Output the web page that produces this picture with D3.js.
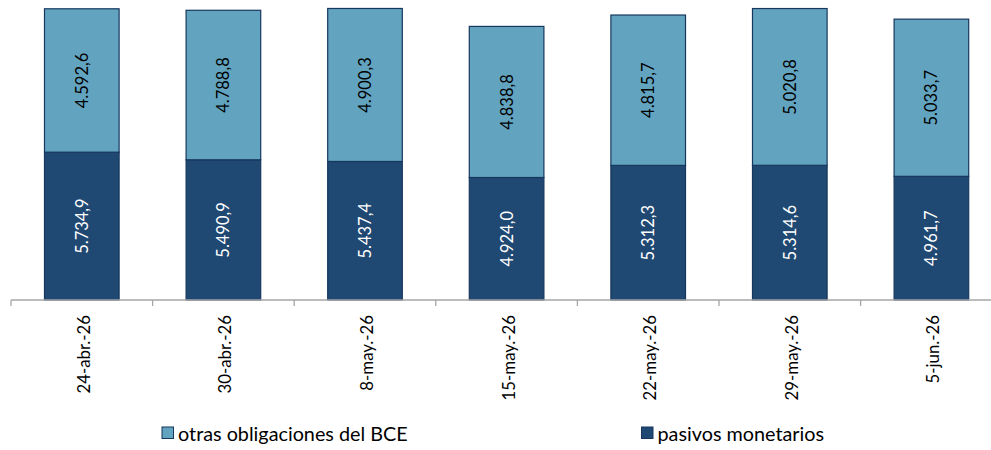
<!DOCTYPE html>
<html><head><meta charset="utf-8">
<script src="https://cdn.jsdelivr.net/npm/d3@7"></script>
<style>body{margin:0;background:#fff}svg{display:block}text{font-family:Lato,"Open Sans",sans-serif}</style>
</head><body><svg id="c" width="991" height="450"></svg>
<script>
const categories = ["24-abr.-26","30-abr.-26","8-may.-26","15-may.-26","22-may.-26","29-may.-26","5-jun.-26"];
const pasivos = [5734.9,5490.9,5437.4,4924.0,5312.3,5314.6,4961.7];
const otras = [4592.6,4788.8,4900.3,4838.8,4815.7,5020.8,5033.7];
const seriesNames = ["pasivos monetarios","otras obligaciones del BCE"];
const yDomain = [1000, 10500];

const colors = {"pasivos monetarios":"#1F4872","otras obligaciones del BCE":"#62A4C0"};
const labelColors = {"pasivos monetarios":"#FFFFFF","otras obligaciones del BCE":"#000000"};

const loc = d3.formatLocale({decimal:",",thousands:".",grouping:[3],currency:["","€"]});
const fmt = loc.format(",.1f");

const rows = categories.map((c,i)=>({cat:c,"pasivos monetarios":pasivos[i],"otras obligaciones del BCE":otras[i]}));
const stacked = d3.stack().keys(seriesNames)(rows);

const svg = d3.select("#c");
const x = d3.scaleBand().domain(categories).range([11,1002.2]).paddingInner(0.466).paddingOuter(0.233);
const y = d3.scaleLinear().domain(yDomain).range([300,3.4]).clamp(true);

const g = svg.append("g");
stacked.forEach(s=>{
  const key = s.key;
  const grp = g.append("g");
  grp.selectAll("rect").data(s).join("rect")
    .attr("x",d=>x(d.data.cat)+0.5)
    .attr("width",x.bandwidth()-1)
    .attr("y",d=>y(d[1]))
    .attr("height",d=>y(d[0])-y(d[1]))
    .attr("fill",colors[key])
    .attr("stroke","#17375E").attr("stroke-width",1.2);
  grp.selectAll("text").data(s).join("text")
    .attr("transform",d=>`translate(${x(d.data.cat)+x.bandwidth()/2},${(y(d[0])+y(d[1]))/2}) rotate(-90)`)
    .attr("text-anchor","middle").attr("dominant-baseline","central")
    .attr("font-size",16.5).attr("fill",labelColors[key])
    .text(d=>fmt(d[1]-d[0]));
});

// axis
const axisY = 300;
svg.append("line").attr("x1",11).attr("x2",991).attr("y1",axisY).attr("y2",axisY).attr("stroke","#A6A6A6").attr("stroke-width",1.3);
const bounds = categories.map(c=>x(c)-x.step()*x.paddingInner()/2);
svg.selectAll("line.tick").data(bounds).join("line").attr("class","tick")
  .attr("x1",d=>d).attr("x2",d=>d).attr("y1",axisY).attr("y2",axisY+6)
  .attr("stroke","#A6A6A6").attr("stroke-width",1.3);
svg.selectAll("text.cat").data(categories).join("text").attr("class","cat")
  .attr("transform",d=>`translate(${x(d)+x.bandwidth()/2+1.5},315) rotate(-90)`)
  .attr("text-anchor","end").attr("dominant-baseline","central")
  .attr("font-size",16.8).attr("fill","#000")
  .text(d=>d);

// legend
const legendItems = [{name:"otras obligaciones del BCE",x:162},{name:"pasivos monetarios",x:641.5}];
const lg = svg.selectAll("g.leg").data(legendItems).join("g").attr("class","leg")
  .attr("transform",d=>`translate(${d.x},427)`);
lg.append("rect").attr("width",11.5).attr("height",11.5).attr("fill",d=>colors[d.name]).attr("stroke","#17375E").attr("stroke-width",1);
lg.append("text").attr("x",16).attr("y",6).attr("dominant-baseline","central").attr("font-size",19.8).attr("fill","#000").text(d=>d.name);
</script></body></html>
